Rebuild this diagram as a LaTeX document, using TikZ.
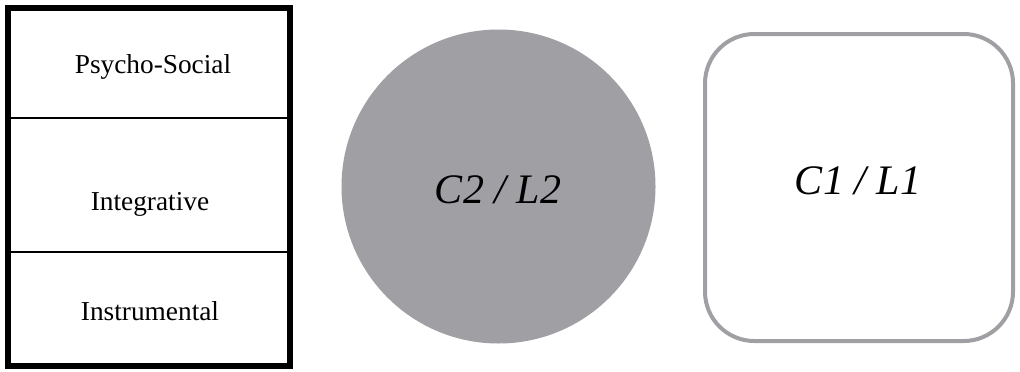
\documentclass[tikz,border=0pt]{standalone}
\usepackage{fontspec}
\setmainfont{Liberation Serif}
\usetikzlibrary{positioning}

\definecolor{ashgray}{RGB}{160,159,164}

\begin{document}
\begin{tikzpicture}[
  x=0.75pt, y=-0.75pt,
  frame/.style={draw, line width=4.5pt, minimum width=211.5pt, minimum height=268.5pt, inner sep=0pt},
  divider/.style={line width=1.3pt},
  layer/.style={font=\fontsize{20.5}{24}\selectfont, inner sep=0pt},
  blob/.style={circle, fill=ashgray, minimum size=235.5pt, inner sep=0pt},
  card/.style={draw=ashgray, line width=3pt, rounded corners=37pt, minimum width=231pt, minimum height=230.25pt, inner sep=0pt},
  tag/.style={font=\fontsize{31.5}{36}\selectfont\itshape}
]
\useasboundingbox (0,0) rectangle (1020,371);

% left stack of layers
\node[frame] (stack) at (149,187) {};
\draw[divider] (stack.west |- 0,118) -- (stack.east |- 0,118);
\draw[divider] (stack.west |- 0,252) -- (stack.east |- 0,252);

\node[layer] (psycho) at (153,67) {Psycho-Social};
\node[layer] (integr) at (150,204) {Integrative};
\node[layer] (instr) at (150,311) {Instrumental};

% second language / culture
\node[blob] (ctwo) at (498.5,186.5) {};
\node[tag] (ctwolabel) at (498,190) {C2 / L2};

% first language / culture
\node[card] (cone) at (859,187.5) {};
\node[tag] (conelabel) at (858,181) {C1 / L1};

\end{tikzpicture}
\end{document}
